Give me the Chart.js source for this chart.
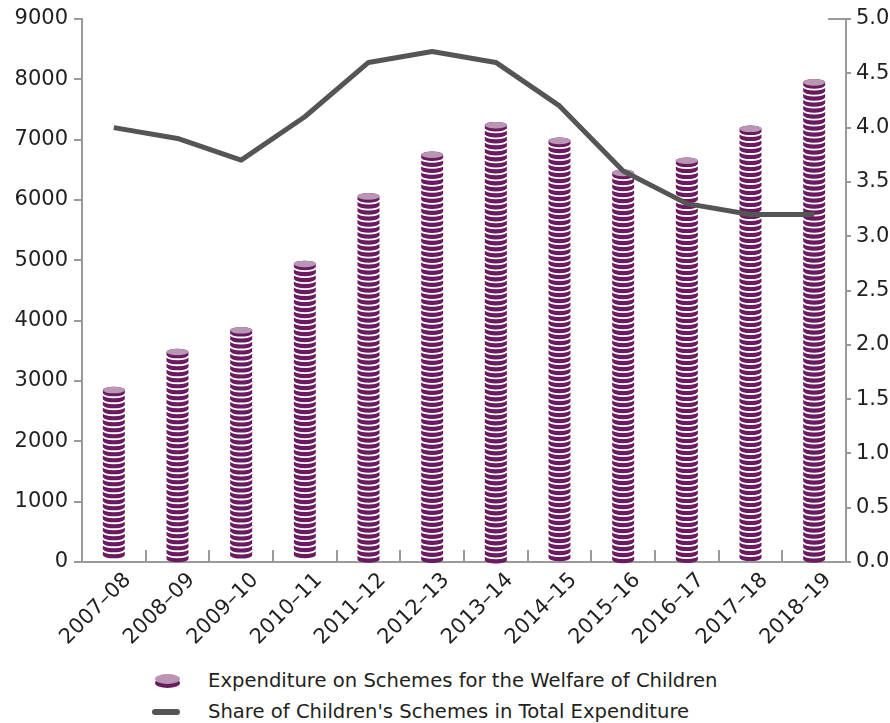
<!DOCTYPE html>
<html>
<head>
<meta charset="utf-8">
<script src="https://cdn.jsdelivr.net/npm/chart.js@4"></script>
<style>
  html, body { margin: 0; padding: 0; background: #fff; }
  #wrap { position: relative; width: 890px; height: 723px; }
  #chart { position: absolute; left: 0; top: 0; }
  .legend { position: absolute; left: 0; font-family: 'DejaVu Sans', sans-serif; font-size: 19.6px; color: #231f20; }
  .legend .item { position: absolute; left: 208px; white-space: nowrap; }
  .coin { position: absolute; left: 155px; width: 25px; height: 10px; border-radius: 50%; background: #b996b4; box-shadow: 0 4px 0 #6a1b5f; }
  .dash { position: absolute; left: 152px; width: 28px; height: 6px; border-radius: 3px; background: #555; }
</style>
</head>
<body>
<div id="wrap">
  <canvas id="chart" width="890" height="655"></canvas>
  <div class="coin" style="top:674px"></div>
  <div class="legend"><div class="item" style="top:669px">Expenditure on Schemes for the Welfare of Children</div></div>
  <div class="dash" style="top:709px"></div>
  <div class="legend"><div class="item" style="top:700px">Share of Children's Schemes in Total Expenditure</div></div>
</div>
<script>
const YEARS = ["2007–08", "2008–09", "2009–10", "2010–11", "2011–12", "2012–13", "2013–14", "2014–15", "2015–16", "2016–17", "2017–18", "2018–19"];
const EXPENDITURE = [2850, 3480, 3840, 4940, 6060, 6750, 7240, 6980, 6450, 6650, 7180, 7950];
const SHARE = [4.0, 3.9, 3.7, 4.1, 4.6, 4.7, 4.6, 4.2, 3.6, 3.3, 3.2, 3.2];

const PURPLE = '#6a1b5f', MAUVE = '#b996b4', AXIS = '#9a9a9a', TEXT = '#231f20';

Chart.defaults.font.family = 'DejaVu Sans';
Chart.defaults.font.size = 21;
Chart.defaults.color = TEXT;

// draws each bar as a stack of coins
const coinStacks = {
    id: 'coinStacks',
    afterDatasetDraw(chart, args) {
        if (args.meta.type !== 'bar') return;
        const ctx = chart.ctx;
        const p = 6, side = 3, ry = 3.3;
        args.meta.data.forEach(bar => {
            const rx = bar.width / 2, x = bar.x;
            const n = Math.round((bar.base - bar.y - side - ry) / p) + 1;
            ctx.save();
            for (let k = n - 1; k >= 0; k--) {
                const yt = bar.y + k * p, yb = yt + side;
                ctx.fillStyle = PURPLE;
                ctx.beginPath();
                ctx.ellipse(x, yb, rx, ry, 0, 0, Math.PI);
                ctx.lineTo(x - rx, yt);
                ctx.ellipse(x, yt, rx, ry, 0, Math.PI, 2 * Math.PI);
                ctx.closePath();
                ctx.fill();
                if (k < n - 1) {
                    ctx.strokeStyle = '#fff';
                    ctx.lineWidth = 1.8;
                    ctx.beginPath();
                    ctx.ellipse(x, yb + 0.9, rx, ry, 0, 0, Math.PI);
                    ctx.stroke();
                }
            }
            ctx.fillStyle = MAUVE;
            ctx.beginPath();
            ctx.ellipse(x, bar.y, rx, ry, 0, 0, 2 * Math.PI);
            ctx.fill();
            ctx.restore();
        });
    },
    afterDraw(chart) {
        const ctx = chart.ctx, xs = chart.scales.x, yr = chart.scales.y1;
        const bottom = chart.chartArea.bottom;
        ctx.save();
        ctx.strokeStyle = AXIS;
        ctx.lineWidth = 2;
        ctx.beginPath();
        for (let i = 0; i < YEARS.length - 1; i++) {
            const bx = Math.round((xs.getPixelForValue(i) + xs.getPixelForValue(i + 1)) / 2);
            ctx.moveTo(bx, bottom);
            ctx.lineTo(bx, bottom - 12);
        }
        const ty = yr.getPixelForValue(5);
        ctx.moveTo(yr.left - 18, ty);
        ctx.lineTo(yr.left, ty);
        ctx.stroke();
        ctx.restore();
    }
};

new Chart(document.getElementById('chart'), {
    type: 'bar',
    data: {
        labels: YEARS,
        datasets: [
            {
                type: 'line', label: 'Share of Children\'s Schemes in Total Expenditure', data: SHARE,
                yAxisID: 'y1', borderColor: '#555', borderWidth: 5, pointRadius: 0, tension: 0,
                borderJoinStyle: 'round', order: 0
            },
            {
                label: 'Expenditure on Schemes for the Welfare of Children', data: EXPENDITURE,
                yAxisID: 'y', backgroundColor: 'rgba(0,0,0,0)', barPercentage: 0.345, categoryPercentage: 1, order: 1
            }
        ]
    },
    options: {
        responsive: false, animation: false,
        layout: { padding: { top: 19, left: 0, right: 0, bottom: 0 } },
        plugins: { legend: { display: false }, tooltip: { enabled: false } },
        scales: {
            x: {
                grid: { display: false, drawTicks: false },
                border: { color: AXIS, width: 2 },
                ticks: { minRotation: 45, maxRotation: 45, padding: 6, labelOffset: 14, autoSkip: false },
                afterFit(s) { s.height = 655 - 562; }
            },
            y: {
                position: 'left', min: 0, max: 9000,
                grid: { drawOnChartArea: false, tickLength: 8, color: AXIS, lineWidth: 2 },
                border: { color: AXIS, width: 2 },
                ticks: { stepSize: 1000, padding: 6, callback: v => String(v) },
                afterFit(s) { s.width = 82; }
            },
            y1: {
                position: 'right', min: 0, max: 5,
                grid: { drawOnChartArea: false, tickLength: 5, color: AXIS, lineWidth: 2 },
                border: { color: AXIS, width: 2 },
                ticks: { stepSize: 0.5, padding: 5, callback: v => v.toFixed(1) },
                afterFit(s) { s.width = 44; }
            }
        }
    },
    plugins: [coinStacks]
});
</script>
</body>
</html>
